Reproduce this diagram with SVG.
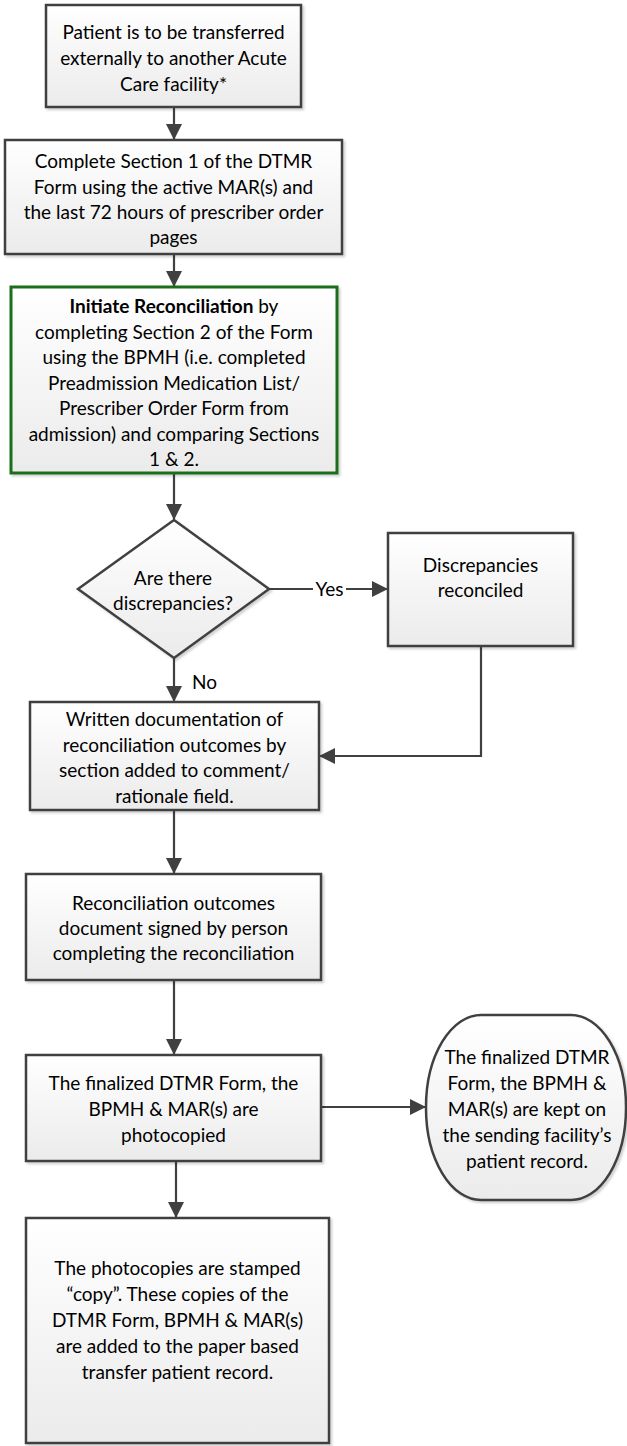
<svg xmlns="http://www.w3.org/2000/svg" width="627" height="1446" viewBox="0 0 627 1446">
<defs>
<linearGradient id="g" x1="0" y1="0" x2="0" y2="1">
<stop offset="0" stop-color="#ffffff"/>
<stop offset="1" stop-color="#ebebeb"/>
</linearGradient>
<filter id="sh" x="-5%" y="-5%" width="115%" height="115%">
<feDropShadow dx="2" dy="2" stdDeviation="1.2" flood-color="#000" flood-opacity="0.18"/>
</filter>
<marker id="arr" markerUnits="userSpaceOnUse" markerWidth="16" markerHeight="16" viewBox="0 0 16 16" refX="15" refY="8" orient="auto">
<path d="M0,0 L16,8 L0,16 Z" fill="#404040"/>
</marker>
</defs>
<style>
.box{fill:url(#g);stroke:#404040;stroke-width:2.5;filter:url(#sh)}
.gbox{fill:url(#g);stroke:#1d6e1d;stroke-width:3;filter:url(#sh)}
.t{font-family:Lato,"Open Sans","Liberation Sans",sans-serif;font-size:19px;fill:#000;text-anchor:middle}
.c{fill:none;stroke:#404040;stroke-width:2.2}
</style>

<g id="connectors">
<path class="c" d="M174,107 V139" marker-end="url(#arr)"/>
<path class="c" d="M174,254 V286" marker-end="url(#arr)"/>
<path class="c" d="M174,473 V519" marker-end="url(#arr)"/>
<path class="c" d="M269,589 H387" marker-end="url(#arr)"/>
<rect x="313" y="578" width="33" height="22" fill="#fff"/>
<text class="t" x="329.5" y="596">Yes</text>
<path class="c" d="M174,658 V701" marker-end="url(#arr)"/>
<text class="t" x="192" y="689" style="text-anchor:start">No</text>
<path class="c" d="M481,646 V756 H320" marker-end="url(#arr)"/>
<path class="c" d="M174,810 V873" marker-end="url(#arr)"/>
<path class="c" d="M174,980 V1054" marker-end="url(#arr)"/>
<path class="c" d="M321,1107 H425" marker-end="url(#arr)"/>
<path class="c" d="M176,1161 V1217" marker-end="url(#arr)"/>
</g>

<g id="n1">
<rect class="box" x="46" y="5" width="255" height="102"/>
<text class="t" x="173.5" y="39">Patient is to be transferred</text>
<text class="t" x="173.5" y="65">externally to another Acute</text>
<text class="t" x="173.5" y="91">Care facility*</text>
</g>

<g id="n2">
<rect class="box" x="5" y="140" width="337" height="114"/>
<text class="t" x="173.5" y="168">Complete Section 1 of the DTMR</text>
<text class="t" x="173.5" y="194">Form using the active MAR(s) and</text>
<text class="t" x="173.5" y="219">the last 72 hours of prescriber order</text>
<text class="t" x="173.5" y="244">pages</text>
</g>

<g id="n3">
<rect class="gbox" x="11" y="287" width="326" height="186"/>
<text class="t" x="174" y="313"><tspan font-weight="bold">Initiate Reconciliation</tspan> by</text>
<text class="t" x="174" y="339">completing Section 2 of the Form</text>
<text class="t" x="174" y="364">using the BPMH (i.e. completed</text>
<text class="t" x="174" y="390">Preadmission Medication List/</text>
<text class="t" x="174" y="415">Prescriber Order Form from</text>
<text class="t" x="174" y="441">admission) and comparing Sections</text>
<text class="t" x="174" y="466">1 &amp; 2.</text>
</g>

<g id="n4">
<path class="box" d="M174,520 L269,589 L174,658 L78,589 Z"/>
<text class="t" x="173" y="585">Are there</text>
<text class="t" x="173" y="610">discrepancies?</text>
</g>

<g id="n5">
<rect class="box" x="388" y="533" width="185" height="113"/>
<text class="t" x="480.5" y="572">Discrepancies</text>
<text class="t" x="480.5" y="597">reconciled</text>
</g>

<g id="n6">
<rect class="box" x="30" y="702" width="289" height="108"/>
<text class="t" x="174.5" y="726">Written documentation of</text>
<text class="t" x="174.5" y="752">reconciliation outcomes by</text>
<text class="t" x="174.5" y="777">section added to comment/</text>
<text class="t" x="174.5" y="803">rationale field.</text>
</g>

<g id="n7">
<rect class="box" x="26" y="874" width="295" height="106"/>
<text class="t" x="173.5" y="910">Reconciliation outcomes</text>
<text class="t" x="173.5" y="935">document signed by person</text>
<text class="t" x="173.5" y="960">completing the reconciliation</text>
</g>

<g id="n8">
<rect class="box" x="26" y="1055" width="295" height="106"/>
<text class="t" x="173.5" y="1090">The finalized DTMR Form, the</text>
<text class="t" x="173.5" y="1116">BPMH &amp; MAR(s) are</text>
<text class="t" x="173.5" y="1142">photocopied</text>
</g>

<g id="n9">
<rect class="box" x="426" y="1015" width="200" height="185" rx="55" ry="92"/>
<text class="t" x="527" y="1064">The finalized DTMR</text>
<text class="t" x="527" y="1090">Form, the BPMH &amp;</text>
<text class="t" x="527" y="1116">MAR(s) are kept on</text>
<text class="t" x="527" y="1142">the sending facility’s</text>
<text class="t" x="527" y="1168">patient record.</text>
</g>

<g id="n10">
<rect class="box" x="26" y="1218" width="303" height="225"/>
<text class="t" x="177.5" y="1275">The photocopies are stamped</text>
<text class="t" x="177.5" y="1301">“copy”. These copies of the</text>
<text class="t" x="177.5" y="1327">DTMR Form, BPMH &amp; MAR(s)</text>
<text class="t" x="177.5" y="1353">are added to the paper based</text>
<text class="t" x="177.5" y="1379">transfer patient record.</text>
</g>
</svg>
